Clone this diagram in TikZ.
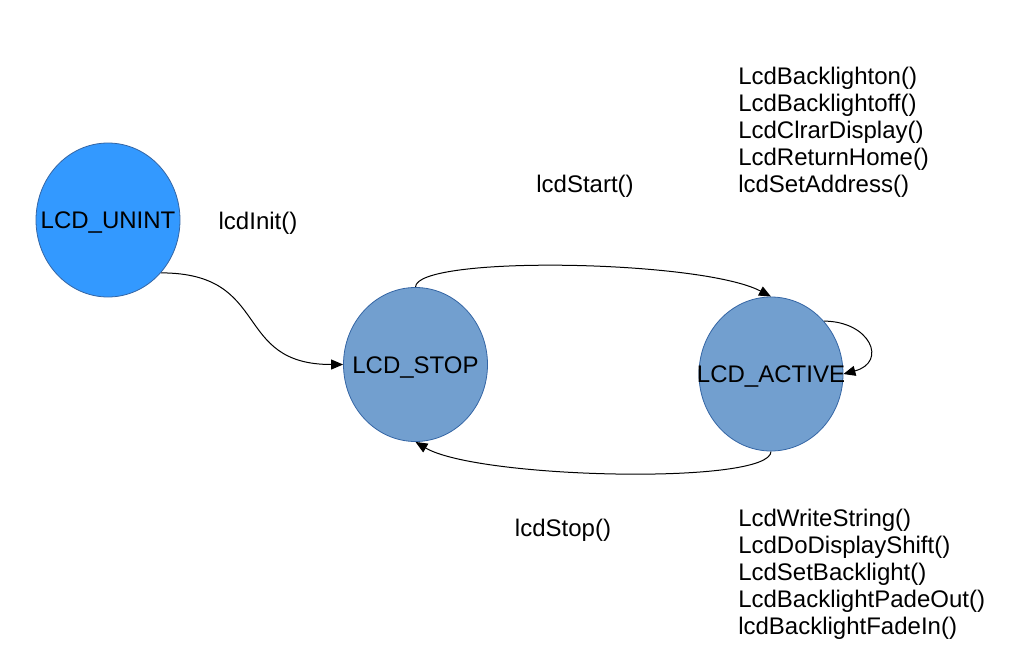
\documentclass[tikz,border=0pt]{standalone}
\usepackage{fontspec}
\setmainfont{Liberation Sans}
\usepackage{tikz}
\usetikzlibrary{shapes.geometric,arrows.meta}
\pgfdeclarelayer{edgelayer}
\pgfdeclarelayer{nodelayer}
\pgfsetlayers{edgelayer,nodelayer,main}
\definecolor{uninitblue}{HTML}{3399FF}
\definecolor{stateblue}{HTML}{729FCF}
\definecolor{stateborder}{HTML}{3465A4}
\newcommand{\statename}[1]{\makebox[0pt]{\raisebox{-6.5pt}[0pt][0pt]{#1}}}
\tikzstyle{none}=[inner sep=0pt]
\tikzstyle{edge}=[draw=black, line width=0.75pt, -{Triangle[length=9pt,width=7.5pt]}]
\tikzstyle{state}=[ellipse, fill=stateblue, draw=stateborder, line width=0.6pt, inner sep=0pt, minimum width=108pt, minimum height=115.5pt]
\tikzstyle{initstate}=[state, fill=uninitblue]

\begin{document}
\begin{tikzpicture}[x=0.75pt, y=-0.75pt, font=\fontsize{18pt}{20.25pt}\selectfont]
	\useasboundingbox (0, 0) rectangle (1030, 671);
	\begin{pgfonlayer}{nodelayer}
		\node [style=initstate] (0) at (108, 220) {\statename{LCD\_UNINT}};
		\node [style=state] (1) at (415.5, 364.5) {\statename{LCD\_STOP}};
		\node [style=state] (2) at (771, 374) {\statename{LCD\_ACTIVE}};
		\node [style=none] (3) at (258, 223) {lcdInit()};
		\node [style=none] (4) at (585, 186) {lcdStart()};
		\node [style=none] (5) at (563, 530) {lcdStop()};
		\node [style=none, anchor=west, align=left] (6) at (738, 132) {LcdBacklighton()\\LcdBacklightoff()\\LcdClrarDisplay()\\LcdReturnHome()\\lcdSetAddress()};
		\node [style=none, anchor=west, align=left] (7) at (738, 574) {LcdWriteString()\\LcdDoDisplayShift()\\LcdSetBacklight()\\LcdBacklightPadeOut()\\lcdBacklightFadeIn()};
	\end{pgfonlayer}
	\begin{pgfonlayer}{edgelayer}
		\draw [style=edge] (0.-45) to [out=0, in=180, looseness=1.4] (1.west);
		\draw [style=edge] (1.north) .. controls +(0, -32) and +(-70, -37) .. (2.north);
		\draw [style=edge] (2.south) .. controls +(0, 34) and +(62, 37) .. (1.south);
		\draw [style=edge] (2.45) to [out=0, in=15, looseness=2.1] (2.east);
	\end{pgfonlayer}
\end{tikzpicture}
\end{document}
